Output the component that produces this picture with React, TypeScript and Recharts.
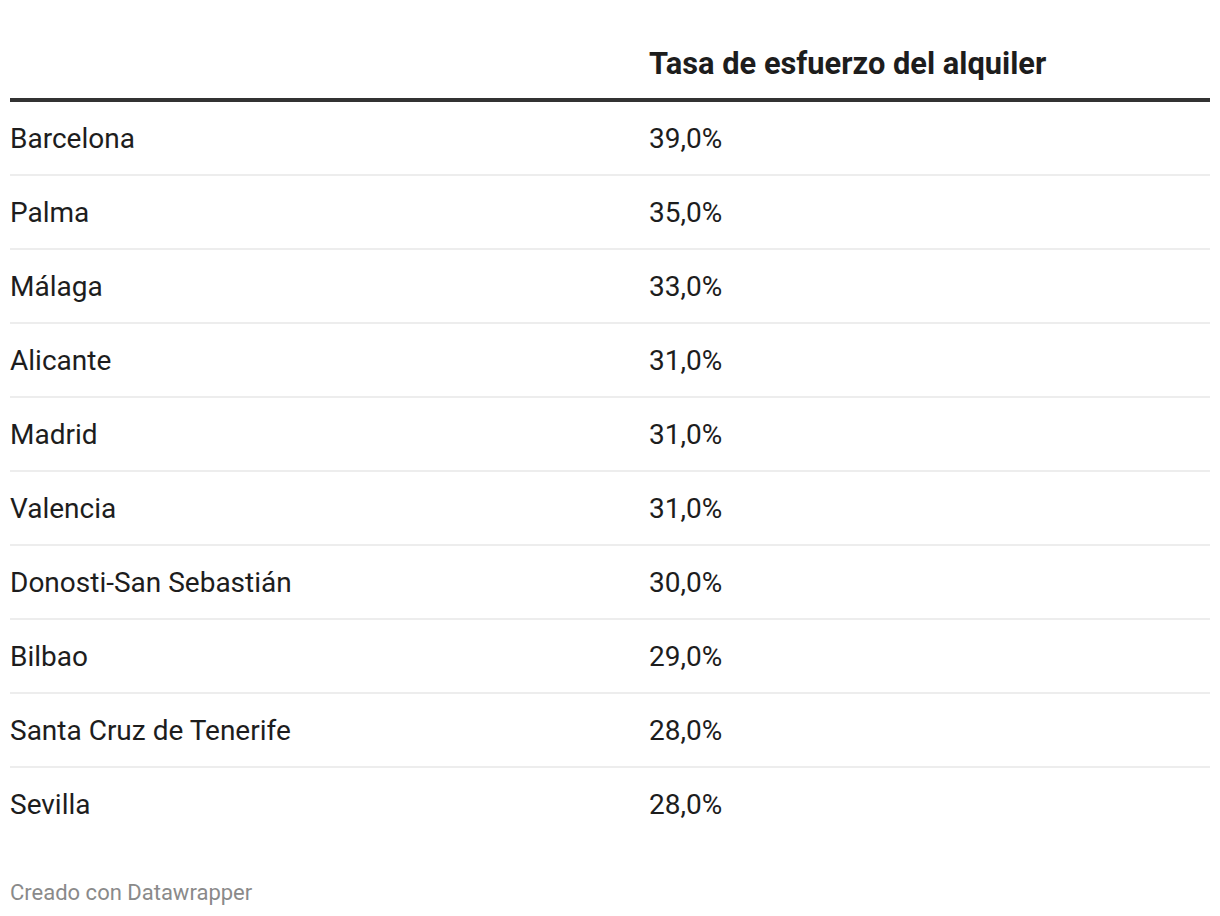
import React from 'react';
import { BarChart, Bar, XAxis, YAxis, LabelList, Customized } from 'recharts';

const cities = [
  'Barcelona',
  'Palma',
  'Málaga',
  'Alicante',
  'Madrid',
  'Valencia',
  'Donosti-San Sebastián',
  'Bilbao',
  'Santa Cruz de Tenerife',
  'Sevilla',
];
const rentEffort = [39.0, 35.0, 33.0, 31.0, 31.0, 31.0, 30.0, 29.0, 28.0, 28.0];
const columnTitle = 'Tasa de esfuerzo del alquiler';
const footerText = 'Creado con Datawrapper';

const data = cities.map((city, i) => ({ city, value: rentEffort[i] }));

const W = 1220;
const H = 916;
const FONT = 'Roboto, "Noto Sans", Arial, sans-serif';
const TEXT = '#1d1d1d';
const VALUE_COL_X = 649;

const fmt = (v: number) => v.toFixed(1).replace('.', ',') + '%';

const RowBackground = (props: any) => {
  const { x, y, width, index } = props;
  if (index === 0) return <g />;
  return <rect x={x} y={y - 1} width={width} height={2} fill="#ededed" />;
};

const CityLabel = (props: any) => {
  const { x, y, height, value } = props;
  return (
    <text x={x} y={y + height / 2} dy="0.355em" textAnchor="start" fontFamily={FONT} fontSize={28} fill={TEXT}>
      {value}
    </text>
  );
};

const ValueLabel = (props: any) => {
  const { y, height, value } = props;
  return (
    <text x={VALUE_COL_X} y={y + height / 2} dy="0.355em" textAnchor="start" fontFamily={FONT} fontSize={28} fill={TEXT}>
      {fmt(value)}
    </text>
  );
};

const Decorations = () => (
  <g>
    <text x={VALUE_COL_X} y={74} textAnchor="start" fontFamily={FONT} fontWeight={700} fontSize={30.8} fill={TEXT}>
      {columnTitle}
    </text>
    <rect x={10} y={98} width={1200} height={4} fill="#333333" />
    <text x={10} y={900} textAnchor="start" fontFamily={FONT} fontSize={22} fill="#8a8a8a">
      {footerText}
    </text>
  </g>
);

export default function App() {
  return (
    <div style={{ position: 'absolute', left: 0, top: 0, width: W, height: H, background: '#fff' }}>
      <BarChart
        width={W}
        height={H}
        data={data}
        layout="vertical"
        margin={{ top: 101, right: 10, bottom: 75, left: 10 }}
        barCategoryGap={0}
      >
        <XAxis type="number" hide domain={[0, 'dataMax']} />
        <YAxis type="category" dataKey="city" hide />
        <Bar
          dataKey="value"
          fill="transparent"
          isAnimationActive={false}
          background={<RowBackground />}
        >
          <LabelList dataKey="city" content={<CityLabel />} />
          <LabelList dataKey="value" content={<ValueLabel />} />
        </Bar>
        <Customized component={<Decorations />} />
      </BarChart>
    </div>
  );
}
